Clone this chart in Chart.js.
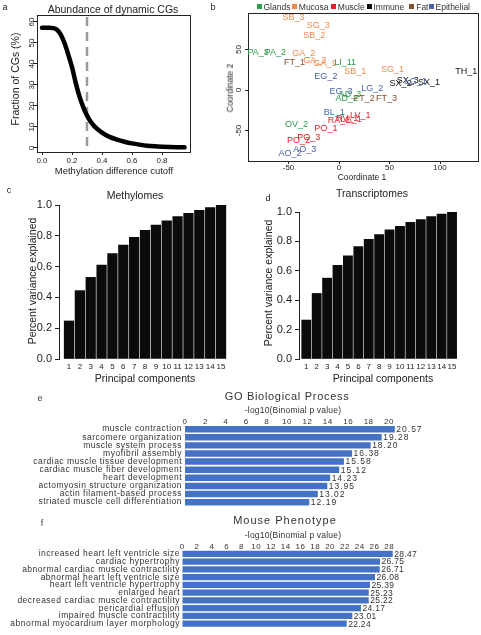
<!DOCTYPE html>
<html>
<head>
<meta charset="utf-8">
<script src="https://cdn.jsdelivr.net/npm/chart.js@4.4.1/dist/chart.umd.min.js"></script>
<style>
body { margin: 0; background: #fff; }
#page { position: relative; width: 481px; height: 635px; overflow: hidden; font-family: "Liberation Sans", Arial, sans-serif; color: #222; }
#page canvas { position: absolute; left: 0; top: 0; width: 481px; height: 635px; }
.t { position: absolute; white-space: nowrap; line-height: 1; transform: translate(-50%, -50%); }
.r { transform: translate(-50%, -50%) rotate(-90deg); }
.lg { position: absolute; top: 2px; font-size: 8.5px; line-height: 10px; white-space: nowrap; color: #333; }
.lg i { display: inline-block; width: 5px; height: 5px; margin-right: 2px; vertical-align: 1px; }
</style>
</head>
<body>
<div id="page">
<canvas id="chartA" width="481" height="635"></canvas>
<canvas id="chartB" width="481" height="635"></canvas>
<canvas id="chartC" width="481" height="635"></canvas>
<canvas id="chartD" width="481" height="635"></canvas>
<canvas id="chartE" width="481" height="635"></canvas>
<canvas id="chartF" width="481" height="635"></canvas>

<div class="t" style="left:5px;top:7px;font-size:9px">a</div>
<div class="t" style="left:213px;top:7px;font-size:9px">b</div>
<div class="t" style="left:9px;top:190px;font-size:9px">c</div>
<div class="t" style="left:268px;top:198px;font-size:9px">d</div>
<div class="t" style="left:40px;top:398px;font-size:9px;color:#444">e</div>
<div class="t" style="left:42px;top:523px;font-size:9px;color:#444">f</div>

<div class="t" style="left:113px;top:9px;font-size:10.5px">Abundance of dynamic CGs</div>
<div class="t r" style="left:15px;top:79px;font-size:10.5px">Fraction of CGs (%)</div>
<div class="t" style="left:114px;top:171px;font-size:9.5px">Methylation difference cutoff</div>

<div class="t" style="left:362px;top:177px;font-size:8.5px">Coordinate 1</div>
<div class="t r" style="left:230px;top:88px;font-size:8.5px">Coordinate 2</div>

<div class="t" style="left:135px;top:195px;font-size:10.5px">Methylomes</div>
<div class="t r" style="left:32px;top:281px;font-size:10.5px">Percent variance explained</div>
<div class="t" style="left:145px;top:378px;font-size:10.5px">Principal components</div>

<div class="t" style="left:372px;top:193px;font-size:10.5px">Transcriptomes</div>
<div class="t r" style="left:268px;top:283px;font-size:10.5px">Percent variance explained</div>
<div class="t" style="left:383px;top:378px;font-size:10.5px">Principal components</div>

<div class="t" style="left:287px;top:396px;font-size:11px;letter-spacing:0.7px;color:#333">GO Biological Process</div>
<div class="t" style="left:293px;top:410px;font-size:8.5px;letter-spacing:0.2px;color:#333">-log10(Binomial p value)</div>
<div class="t" style="left:285px;top:520px;font-size:11px;letter-spacing:1px;color:#333">Mouse Phenotype</div>
<div class="t" style="left:293px;top:535px;font-size:8.5px;letter-spacing:0.2px;color:#333">-log10(Binomial p value)</div>

<div id="legendB"></div>
</div>

<script>
// a: abundance of dynamic CGs
const cutoffs = [0, 0.05, 0.075, 0.1, 0.125, 0.15, 0.175, 0.2, 0.225, 0.25, 0.275, 0.3, 0.325, 0.35, 0.4, 0.45, 0.5, 0.55, 0.6, 0.65, 0.7, 0.75, 0.8, 0.85, 0.9, 0.95];
const fractionCGs = [57.3, 57.3, 57.1, 56.3, 54, 50, 44.5, 38.5, 31, 24.5, 19.5, 15.5, 12.5, 10.3, 7.3, 5.3, 4, 3, 2.2, 1.6, 1.1, 0.8, 0.6, 0.45, 0.35, 0.3];
const chosenCutoff = 0.3;
const cutoffTicks = [0, 0.2, 0.4, 0.6, 0.8];
const fractionTicks = [0, 10, 20, 30, 40, 50, 60];

// b: MDS of samples
const sampleNames = ['SB_3', 'SG_3', 'SB_2', 'PA_3', 'PA_2', 'GA_2', 'FT_1', 'GA_3', 'GA_1', 'LI_11', 'SB_1', 'SG_1', 'TH_1', 'EG_2', 'SX_2', 'SX_3', 'LG_1', 'SX_1', 'LG_2', 'EG_3', 'AD_3', 'AD_2', 'FT_2', 'FT_3', 'BL_1', 'LV_1', 'RA_1', 'RV_1', 'LA_1', 'OV_2', 'PO_1', 'PO_3', 'PO_2', 'AO_3', 'AO_2'];
const coord1 = [-45, -20.5, -24.5, -80, -63, -35, -44, -24, -14, 6, 16, 53, 126, -13, 61, 68, 76, 89, 33, 2, 11, 7.6, 25, 47, -4.6, 21, 0, 8, 12, -42, -13, -30, -40, -34, -48.5];
const coord2 = [90, 80, 67, 46, 46, 45, 34, 37, 33, 34, 22.6, 25.5, 22.6, 16.4, 8.3, 11.5, 10, 9, 2, -2, -5, -10, -11, -10, -28, -31, -38, -35, -37, -42, -48, -59, -62, -74, -79];
const sampleGroup = ['Mucosa', 'Mucosa', 'Mucosa', 'Glands', 'Glands', 'Mucosa', 'Fat', 'Mucosa', 'Mucosa', 'Glands', 'Mucosa', 'Mucosa', 'Immune', 'Epithelial', 'Immune', 'Immune', 'Epithelial', 'Immune', 'Epithelial', 'Epithelial', 'Glands', 'Glands', 'Fat', 'Fat', 'Epithelial', 'Muscle', 'Muscle', 'Muscle', 'Muscle', 'Glands', 'Muscle', 'Muscle', 'Muscle', 'Epithelial', 'Epithelial'];
const groups = ['Glands', 'Mucosa', 'Muscle', 'Immune', 'Fat', 'Epithelial'];
const groupColors = ['#2f9a4b', '#f28a4e', '#e31e26', '#111111', '#85502d', '#4a63ae'];
const coord1Ticks = [-50, 0, 50, 100];
const coord2Ticks = [-50, 0, 50];

// c, d: cumulative variance explained
const components = [1, 2, 3, 4, 5, 6, 7, 8, 9, 10, 11, 12, 13, 14, 15];
const methylomeVar = [0.247, 0.444, 0.530, 0.610, 0.684, 0.740, 0.790, 0.835, 0.870, 0.898, 0.924, 0.946, 0.965, 0.983, 1.0];
const transcriptomeVar = [0.265, 0.446, 0.550, 0.638, 0.701, 0.765, 0.814, 0.846, 0.878, 0.903, 0.930, 0.948, 0.968, 0.986, 1.0];
const varianceTicks = [0, 0.2, 0.4, 0.6, 0.8, 1.0];

// e: GO biological process
const goTerms = ['muscle contraction', 'sarcomere organization', 'muscle system process', 'myofibril assembly', 'cardiac muscle tissue development', 'cardiac muscle fiber development', 'heart development', 'actomyosin structure organization', 'actin filament-based process', 'striated muscle cell differentiation'];
const goScores = [20.57, 19.28, 18.20, 16.38, 15.58, 15.12, 14.23, 13.95, 13.02, 12.19];
const goTicks = [0, 2, 4, 6, 8, 10, 12, 14, 16, 18, 20];

// f: mouse phenotype
const phenoTerms = ['increased heart left ventricle size', 'cardiac hypertrophy', 'abnormal cardiac muscle contractility', 'abnormal heart left ventricle size', 'heart left ventricle hypertrophy', 'enlarged heart', 'decreased cardiac muscle contractility', 'pericardial effusion', 'impaired muscle contractility', 'abnormal myocardium layer morphology'];
const phenoScores = [28.47, 26.75, 26.71, 26.08, 25.39, 25.23, 25.22, 24.17, 23.01, 22.24];
const phenoTicks = [0, 2, 4, 6, 8, 10, 12, 14, 16, 18, 20, 22, 24, 26, 28];

const FONT = '"Liberation Sans", Arial, sans-serif';
Chart.defaults.font.family = FONT;
Chart.defaults.color = '#222';
Chart.defaults.animation = false;
Chart.defaults.responsive = false;
Chart.defaults.plugins.legend.display = false;
Chart.defaults.plugins.tooltip.enabled = false;

// chart area in page pixels; xSize/ySize = room kept for the axis labels
function area(l, t, r, b, ySize, xSize, xTop) {
  return {
    left: l - ySize,
    top: xTop ? t - xSize : t,
    right: 481 - r,
    bottom: xTop ? 635 - b : 635 - b - xSize
  };
}
function fixSize(n) {
  return s => { if (s.isHorizontal()) s.height = n; else s.width = n; };
}
function useTicks(values) {
  return s => { s.ticks = values.map(v => ({ value: v })); };
}
const tickMarks = len => ({ display: true, drawOnChartArea: false, drawTicks: true, tickLength: len, color: '#222' });
const noGrid = { display: false, drawTicks: false };

const boxPlugin = {
  id: 'box',
  afterDatasetsDraw(chart) {
    const { ctx, chartArea: a } = chart;
    ctx.save();
    ctx.strokeStyle = '#222';
    ctx.lineWidth = 1;
    const l = Math.round(a.left) + 0.5, t = Math.round(a.top) + 0.5;
    ctx.strokeRect(l, t, Math.round(a.right) - Math.round(a.left), Math.round(a.bottom) - Math.round(a.top));
    ctx.restore();
  }
};

// R style vertical tick labels on the y axis
const rotYLabels = {
  id: 'rotY',
  afterDraw(chart, args, o) {
    const ys = chart.scales.y, ctx = chart.ctx;
    ctx.save();
    ctx.font = o.font;
    ctx.fillStyle = '#222';
    ctx.textAlign = 'center';
    ctx.textBaseline = 'middle';
    ys.ticks.forEach(t => {
      ctx.save();
      ctx.translate(o.x, ys.getPixelForValue(t.value));
      ctx.rotate(-Math.PI / 2);
      ctx.fillText(t.label, 0, 0);
      ctx.restore();
    });
    ctx.restore();
  }
};

// a
const cutoffLine = {
  id: 'cutoffLine',
  beforeDatasetsDraw(chart) {
    const { ctx, chartArea: a } = chart;
    const x = chart.scales.x.getPixelForValue(chosenCutoff);
    ctx.save();
    ctx.strokeStyle = '#9a9a9a';
    ctx.lineWidth = 2.5;
    ctx.setLineDash([9, 6]);
    ctx.beginPath();
    ctx.moveTo(x, a.top + 2);
    ctx.lineTo(x, a.bottom);
    ctx.stroke();
    ctx.restore();
  }
};

new Chart(document.getElementById('chartA'), {
  type: 'line',
  data: {
    datasets: [{
      data: cutoffs.map((c, i) => ({ x: c, y: fractionCGs[i] })),
      borderColor: '#000',
      borderWidth: 4.5,
      borderCapStyle: 'round',
      pointRadius: 0,
      cubicInterpolationMode: 'monotone'
    }]
  },
  options: {
    layout: { padding: area(37, 15, 190, 152, 20, 16) },
    scales: {
      x: {
        type: 'linear', min: -1 / 30, max: 148 / 150,
        afterBuildTicks: useTicks(cutoffTicks), afterFit: fixSize(16),
        ticks: { font: { size: 8 }, padding: 0.5, callback: v => v.toFixed(1) },
        grid: tickMarks(3), border: { display: false }
      },
      y: {
        min: -1.905, max: 63.33,
        afterBuildTicks: useTicks(fractionTicks), afterFit: fixSize(20),
        ticks: { display: false },
        grid: tickMarks(4), border: { display: false }
      }
    },
    plugins: { rotY: { x: 31.5, font: '8px ' + FONT } }
  },
  plugins: [cutoffLine, boxPlugin, rotYLabels]
});

// b
const sampleLabels = {
  id: 'sampleLabels',
  afterDatasetsDraw(chart) {
    const ctx = chart.ctx;
    ctx.save();
    ctx.font = '9px ' + FONT;
    ctx.textAlign = 'center';
    ctx.textBaseline = 'middle';
    chart.getDatasetMeta(0).data.forEach((pt, i) => {
      ctx.fillStyle = groupColors[groups.indexOf(sampleGroup[i])];
      ctx.fillText(sampleNames[i], pt.x, pt.y);
    });
    ctx.restore();
  }
};

new Chart(document.getElementById('chartB'), {
  type: 'scatter',
  data: {
    datasets: [{
      data: coord1.map((c, i) => ({ x: c, y: coord2[i] })),
      pointRadius: 0
    }]
  },
  options: {
    layout: { padding: area(248, 13, 478, 161, 10, 12) },
    scales: {
      x: {
        type: 'linear', min: -90.1, max: 137.6,
        afterBuildTicks: useTicks(coord1Ticks), afterFit: fixSize(12),
        ticks: { font: { size: 8 }, padding: -1 },
        grid: tickMarks(3), border: { display: false }
      },
      y: {
        min: -87.65, max: 95.06,
        afterBuildTicks: useTicks(coord2Ticks), afterFit: fixSize(10),
        ticks: { display: false },
        grid: tickMarks(3), border: { display: false }
      }
    },
    plugins: { rotY: { x: 239, font: '8px ' + FONT } }
  },
  plugins: [boxPlugin, rotYLabels, sampleLabels]
});

const legendPos = [259, 294.3, 333.3, 369, 411.7, 431];
const legendBox = document.getElementById('legendB');
groups.forEach((g, i) => {
  const d = document.createElement('div');
  d.className = 'lg';
  d.style.left = (legendPos[i] - 2.5) + 'px';
  d.innerHTML = '<i style="background:' + groupColors[i] + '"></i>' + g;
  legendBox.appendChild(d);
});

// c, d
function varianceChart(id, values, box, firstX, slot, thick) {
  const l = box[0], r = box[2];
  return new Chart(document.getElementById(id), {
    type: 'bar',
    data: {
      datasets: [{
        data: components.map((c, i) => ({ x: c, y: values[i] })),
        backgroundColor: '#0b0b0b',
        barThickness: thick
      }]
    },
    options: {
      layout: { padding: area(box[0], box[1], box[2], box[3], 40, 14) },
      scales: {
        x: {
          type: 'linear', offset: false,
          min: 1 - (firstX - l) / slot,
          max: 15 + (r - firstX - 14 * slot) / slot,
          afterBuildTicks: useTicks(components), afterFit: fixSize(14),
          ticks: { font: { size: 8 }, padding: 3, autoSkip: false, maxRotation: 0, minRotation: 0 },
          grid: noGrid, border: { display: false }
        },
        y: {
          min: 0, max: 1,
          afterBuildTicks: useTicks(varianceTicks), afterFit: fixSize(40),
          ticks: { font: { size: 11 }, padding: 3, callback: v => v.toFixed(1) },
          grid: tickMarks(4), border: { display: true, color: '#222' }
        }
      }
    }
  });
}
varianceChart('chartC', methylomeVar, [59, 205, 230, 359], 69, 10.86, 9.6);
varianceChart('chartD', transcriptomeVar, [299, 212, 460, 359], 306.3, 10.41, 9.2);

// e, f
const spacedText = {
  id: 'spacedText',
  beforeDraw(chart) { chart.ctx.letterSpacing = '0.5px'; }
};
const barValues = {
  id: 'barValues',
  afterDatasetsDraw(chart, args, o) {
    const ctx = chart.ctx, vals = chart.data.datasets[0].data;
    ctx.save();
    ctx.font = '8.5px ' + FONT;
    ctx.letterSpacing = o.spacing;
    ctx.fillStyle = '#333';
    ctx.textAlign = 'left';
    ctx.textBaseline = 'middle';
    chart.getDatasetMeta(0).data.forEach((bar, i) => {
      ctx.fillText(vals[i].toFixed(2), bar.x + 1.5, bar.y + 0.5);
    });
    ctx.restore();
  }
};

function enrichmentChart(id, terms, scores, ticks, max, box, labelPad, spacing) {
  return new Chart(document.getElementById(id), {
    type: 'bar',
    data: {
      labels: terms,
      datasets: [{
        data: scores,
        backgroundColor: '#4472c4',
        categoryPercentage: 1,
        barPercentage: 0.8
      }]
    },
    options: {
      indexAxis: 'y',
      layout: { padding: area(box[0], box[1], box[2], box[3], 180, 12, true) },
      scales: {
        x: {
          position: 'top', min: 0, max: max,
          afterBuildTicks: useTicks(ticks), afterFit: fixSize(12),
          ticks: { font: { size: 8 }, color: '#333', padding: -1.4 },
          grid: noGrid, border: { display: false }
        },
        y: {
          afterFit: fixSize(180),
          ticks: { font: { size: 8.5 }, color: '#333', padding: labelPad, autoSkip: false },
          grid: noGrid, border: { display: false }
        }
      },
      plugins: { barValues: { spacing: spacing } }
    },
    plugins: [spacedText, barValues]
  });
}
enrichmentChart('chartE', goTerms, goScores, goTicks, 22, [185, 425.1, 185 + 22 * 10.2, 425.1 + 81.1], 3, '1px');
enrichmentChart('chartF', phenoTerms, phenoScores, phenoTicks, 30, [182.3, 550, 182.3 + 30 * 7.39, 550 + 80.7], 2.3, '0.3px');
</script>
</body>
</html>
